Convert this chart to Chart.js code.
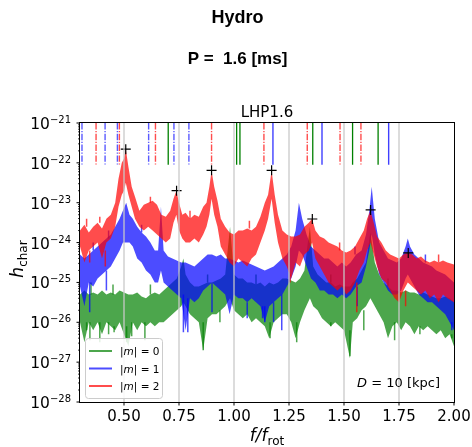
<!DOCTYPE html>
<html><head><meta charset="utf-8">
<script src="https://cdn.jsdelivr.net/npm/chart.js@4.4.1/dist/chart.umd.min.js"></script>
<style>html,body{margin:0;padding:0;background:#fff}#wrap{width:472px;height:447px}</style>
</head><body><div id="wrap"><canvas id="c" width="472" height="447"></canvas></div>
<script>
// ---------- axis / tick data ----------
const xTicks = [0.5, 0.75, 1.0, 1.25, 1.5, 1.75, 2.0];
const xTickLabels = ['0.50', '0.75', '1.00', '1.25', '1.50', '1.75', '2.00'];
const yDecades = [-28, -27, -26, -25, -24, -23, -22, -21];
const seriesLabels = ['|m| = 0', '|m| = 1', '|m| = 2'];

// ---------- spectra (log10 h_char, upper / lower envelope) ----------
const redF = [0.30,0.32,0.34,0.36,0.38,0.40,0.42,0.44,0.46,0.475,
  0.49,0.50,0.508,0.52,0.535,0.55,0.57,0.59,0.61,0.63,
  0.65,0.67,0.69,0.71,0.725,0.738,0.75,0.765,0.78,0.80,
  0.82,0.84,0.86,0.875,0.888,0.898,0.91,0.925,0.94,0.96,
  0.98,1.00,1.02,1.04,1.06,1.08,1.10,1.12,1.14,1.155,
  1.171,1.185,1.20,1.22,1.24,1.26,1.28,1.30,1.32,1.34,
  1.355,1.37,1.39,1.41,1.43,1.45,1.47,1.49,1.51,1.53,
  1.55,1.57,1.59,1.605,1.62,1.635,1.65,1.67,1.69,1.71,
  1.73,1.75,1.77,1.79,1.81,1.83,1.85,1.87,1.89,1.91,
  1.93,1.95,1.97,2.00];
const redHi = [-23.7,-23.55,-23.75,-23.6,-23.5,-23.65,-23.4,-23.3,-23.0,-22.4,
  -22.0,-21.9,-21.65,-22.1,-22.6,-22.85,-23.2,-23.05,-23.0,-22.95,
  -23.05,-23.3,-23.35,-23.2,-22.9,-22.7,-23.0,-23.3,-23.25,-23.4,
  -23.3,-23.35,-23.1,-23.0,-22.6,-22.2,-22.6,-22.95,-23.4,-23.6,
  -23.75,-23.8,-23.7,-23.7,-23.65,-23.7,-23.6,-23.35,-23.0,-22.8,
  -22.2,-22.8,-23.3,-23.7,-23.8,-23.85,-23.85,-23.8,-23.6,-23.5,
  -23.4,-23.7,-23.85,-23.9,-24.0,-24.05,-24.1,-24.2,-24.25,-24.2,
  -24.1,-23.9,-23.7,-23.4,-23.2,-23.5,-23.85,-24.0,-24.2,-24.3,
  -24.35,-24.4,-24.3,-24.25,-24.3,-24.4,-24.35,-24.45,-24.5,-24.45,
  -24.5,-24.45,-24.5,-24.55];
const redLo = [-24.1,-24.5,-24.2,-24.1,-24.0,-24.4,-24.0,-23.9,-23.6,-23.1,
  -22.8,-22.7,-22.5,-22.8,-23.1,-23.4,-23.6,-23.7,-23.6,-23.7,
  -23.8,-23.9,-24.0,-23.9,-23.5,-23.3,-23.7,-23.9,-24.0,-24.0,
  -23.9,-24.0,-23.8,-23.6,-23.3,-22.9,-23.3,-23.6,-24.1,-24.3,
  -24.5,-24.6,-24.4,-24.5,-24.6,-24.4,-24.3,-24.0,-23.7,-23.4,
  -22.9,-23.5,-24.0,-24.4,-24.6,-24.9,-24.5,-24.6,-24.3,-24.2,
  -24.0,-24.4,-24.6,-24.8,-25.0,-25.1,-25.2,-25.1,-25.3,-25.2,
  -25.0,-24.7,-24.5,-24.2,-24.0,-24.3,-24.6,-24.9,-25.0,-25.2,
  -25.4,-25.5,-25.2,-25.0,-25.1,-25.2,-25.3,-25.2,-25.4,-25.3,
  -25.5,-25.3,-25.4,-25.5];

const blueF = [0.30,0.32,0.34,0.36,0.38,0.40,0.42,0.44,0.46,0.48,
  0.495,0.51,0.525,0.54,0.56,0.58,0.60,0.62,0.64,0.655,
  0.668,0.68,0.70,0.72,0.74,0.76,0.78,0.80,0.82,0.84,
  0.86,0.88,0.90,0.92,0.94,0.96,0.98,1.00,1.02,1.04,
  1.06,1.08,1.10,1.12,1.14,1.16,1.18,1.20,1.22,1.24,
  1.26,1.28,1.295,1.31,1.33,1.35,1.37,1.39,1.41,1.43,
  1.45,1.47,1.49,1.51,1.53,1.555,1.58,1.60,1.615,1.626,
  1.64,1.66,1.68,1.70,1.72,1.74,1.76,1.78,1.79,1.80,
  1.82,1.84,1.86,1.88,1.90,1.92,1.94,1.96,1.98,2.00];
const blueHi = [-24.3,-24.4,-24.3,-24.2,-24.1,-24.0,-23.9,-23.8,-23.6,-23.4,
  -23.2,-23.0,-23.3,-23.4,-23.6,-23.75,-23.85,-24.0,-24.2,-24.2,
  -23.1,-24.2,-24.35,-24.4,-24.45,-24.5,-24.5,-24.55,-24.6,-24.5,
  -24.4,-24.3,-24.3,-24.35,-24.3,-24.4,-24.4,-24.45,-24.5,-24.45,
  -24.5,-24.55,-24.6,-24.65,-24.7,-24.65,-24.6,-24.5,-24.4,-24.3,
  -24.1,-23.7,-23.0,-23.4,-23.8,-24.1,-24.2,-24.3,-24.4,-24.4,
  -24.5,-24.6,-24.5,-24.6,-24.5,-24.3,-24.2,-23.8,-23.2,-22.6,
  -23.4,-24.0,-24.2,-24.4,-24.45,-24.5,-24.4,-24.1,-23.9,-24.1,
  -24.3,-24.4,-24.5,-24.55,-24.6,-24.7,-24.75,-24.8,-24.9,-25.0];
const blueLo = [-25.1,-25.6,-25.0,-25.1,-24.9,-24.8,-24.7,-24.6,-24.4,-24.2,
  -24.0,-24.0,-24.0,-24.1,-24.4,-24.5,-24.7,-24.8,-25.0,-25.0,
  -24.7,-25.0,-25.1,-25.2,-25.3,-25.4,-26.2,-25.4,-25.5,-25.4,
  -25.2,-25.1,-25.0,-25.1,-25.2,-25.3,-25.8,-25.3,-25.4,-25.4,
  -25.5,-25.4,-25.5,-25.6,-26.0,-25.6,-25.5,-25.4,-25.3,-25.1,
  -24.9,-24.6,-24.2,-24.3,-24.6,-24.9,-25.0,-25.2,-25.2,-25.3,
  -25.3,-25.4,-25.3,-25.4,-25.3,-25.1,-25.0,-24.6,-24.2,-23.8,
  -24.3,-24.8,-25.0,-25.2,-25.3,-25.3,-25.2,-24.9,-24.8,-24.9,
  -25.1,-25.3,-25.4,-25.5,-25.5,-25.6,-25.7,-25.8,-26.0,-26.2];

const greenF = [0.30,0.32,0.34,0.36,0.38,0.40,0.42,0.44,0.46,0.48,
  0.50,0.52,0.54,0.56,0.58,0.60,0.62,0.64,0.66,0.68,
  0.70,0.72,0.74,0.76,0.77,0.78,0.80,0.82,0.84,0.86,
  0.88,0.90,0.92,0.94,0.96,0.982,1.00,1.02,1.04,1.06,
  1.08,1.10,1.12,1.14,1.16,1.18,1.20,1.22,1.24,1.26,
  1.28,1.30,1.32,1.345,1.36,1.38,1.40,1.42,1.44,1.46,
  1.48,1.50,1.527,1.54,1.56,1.58,1.60,1.62,1.64,1.66,
  1.68,1.70,1.72,1.74,1.76,1.78,1.80,1.82,1.84,1.86,
  1.88,1.90,1.92,1.94,1.96,1.98,2.00];
const greenHi = [-25.3,-25.2,-25.3,-25.25,-25.3,-25.2,-25.3,-25.25,-25.3,-25.2,
  -25.25,-25.3,-25.3,-25.25,-25.35,-25.4,-25.3,-25.25,-25.3,-25.2,
  -25.1,-25.0,-24.9,-24.6,-24.4,-24.8,-25.0,-25.1,-25.1,-25.05,
  -25.0,-25.0,-24.95,-24.9,-24.8,-23.6,-24.8,-24.9,-24.9,-25.0,
  -25.0,-25.05,-25.0,-25.1,-25.0,-25.05,-25.0,-24.9,-24.9,-24.95,
  -25.0,-24.9,-24.7,-23.6,-24.6,-24.8,-24.9,-25.0,-25.0,-25.1,
  -25.05,-25.1,-25.1,-25.0,-24.9,-24.7,-24.5,-23.75,-24.5,-24.8,
  -25.0,-25.1,-25.2,-25.2,-25.25,-25.2,-25.25,-25.25,-25.3,-25.25,
  -25.3,-25.35,-25.4,-25.4,-25.35,-25.4,-25.5];
const greenLo = [-26.0,-26.5,-26.0,-26.2,-26.0,-26.3,-26.0,-26.1,-26.2,-26.0,
  -26.3,-26.6,-26.0,-26.2,-26.0,-26.1,-26.0,-26.1,-26.0,-26.0,
  -25.9,-25.8,-25.7,-25.6,-25.5,-25.6,-25.8,-25.9,-26.0,-26.7,
  -25.9,-25.8,-25.8,-25.7,-25.6,-25.4,-25.7,-25.8,-25.9,-25.8,
  -26.0,-25.9,-26.0,-26.1,-26.4,-26.0,-25.9,-25.8,-25.8,-26.0,
  -26.4,-26.0,-25.7,-25.4,-25.6,-25.7,-25.9,-26.0,-26.1,-26.0,
  -26.1,-26.2,-26.9,-26.0,-25.9,-25.7,-25.6,-25.4,-25.6,-25.8,
  -26.0,-26.4,-26.1,-26.0,-26.2,-26.0,-26.1,-26.3,-26.1,-26.2,
  -26.1,-26.2,-26.3,-26.2,-26.4,-26.3,-26.6];

// ---------- narrow noise spikes (f, from, to in log10) ----------
const greenSpikeF = [0.33,0.345,0.39,0.43,0.455,0.512,0.535,0.595,0.86,0.936,1.164,1.285,1.44,1.527,1.59,1.73,1.845,1.99,0.35,0.45,0.62,0.88,1.10,1.44,1.70];
const greenSpikeFrom = [-26.0,-26.0,-26.0,-26.0,-26.1,-26.1,-26.0,-26.0,-26.0,-25.7,-26.0,-26.0,-26.0,-26.2,-25.7,-26.0,-26.1,-26.3,-25.3,-25.3,-25.3,-25.0,-25.05,-25.0,-25.1];
const greenSpikeTo = [-26.2,-26.45,-26.5,-26.3,-26.25,-26.5,-26.35,-26.45,-26.7,-26.0,-26.4,-26.5,-26.1,-26.85,-26.2,-26.45,-26.3,-26.4,-25.0,-25.05,-25.05,-24.8,-24.8,-24.8,-24.9];
const blueSpikeF = [0.344,0.42,0.77,0.79,0.90,1.06,1.13,1.14,1.18,1.217,1.56,1.99,0.36,0.43,0.58,1.55,1.87];
const blueSpikeFrom = [-25.0,-24.7,-25.3,-25.4,-25.0,-25.5,-25.6,-25.6,-25.5,-25.3,-25.1,-26.0,-24.2,-23.9,-23.75,-24.3,-24.5];
const blueSpikeTo = [-25.75,-25.2,-26.25,-26.25,-25.75,-25.9,-25.9,-26.0,-26.0,-26.2,-25.6,-26.2,-24.0,-23.7,-23.55,-24.1,-24.3];
const redSpikeF = [0.344,0.415,1.255,1.558,1.78,0.33,0.39,0.62,0.80,1.07,1.48,1.93];
const redSpikeFrom = [-24.2,-24.2,-24.8,-25.0,-25.2,-23.6,-23.5,-23.0,-23.4,-23.65,-24.2,-24.5];
const redSpikeTo = [-24.5,-24.6,-25.0,-25.75,-25.6,-23.4,-23.35,-22.85,-23.2,-23.45,-24.0,-24.3];

// ---------- predicted frequency markers (top segments) ----------
const segTop = 1e-21, segBottom = 9e-23;
const redDashF = [0.373, 0.479, 0.643, 0.898, 1.136, 1.333, 1.482, 1.577];
const blueDashF = [0.309, 0.414, 0.470, 0.612, 0.727, 0.795];
const greenSolidF = [0.701, 1.012, 1.027, 1.358, 1.539, 1.655];
const blueSolidF = [1.177, 1.400, 1.703];

// ---------- peak markers ----------
const peakF = [0.508, 0.739, 0.898, 1.171, 1.356, 1.621, 1.792];
const peakH = [2.2e-22, 2.0e-23, 6.5e-23, 6.5e-23, 3.9e-24, 6.6e-24, 5.5e-25];

// ---------- styles ----------
const cGreen = 'rgba(0,128,0,0.7)', cBlue = 'rgba(0,0,255,0.7)', cRed = 'rgba(255,0,0,0.7)';
const FONT = '"DejaVu Sans", sans-serif';

function toPts(f, e) { return f.map((x, i) => ({ x: x, y: Math.pow(10, e[i]) })); }

const datasets = [];
datasets.push({ type: 'line', data: peakF.map((x, i) => ({ x: x, y: peakH[i] })), showLine: false,
  pointStyle: 'cross', pointRadius: 5, pointBorderWidth: 1.2, pointBorderColor: '#000', borderColor: '#000', order: 0 });
function addSegs(arr, color, dash, width) {
  arr.forEach(f => datasets.push({ type: 'line', data: [{ x: f, y: segTop }, { x: f, y: segBottom }],
    borderColor: color, borderWidth: width, borderDash: dash, pointRadius: 0, fill: false, order: 1 }));
}
addSegs(redDashF, 'rgba(255,0,0,0.7)', [6.4, 1.6, 1.2, 1.6], 1.4);
addSegs(blueDashF, 'rgba(0,0,255,0.65)', [6.4, 1.6, 1.2, 1.6], 1.4);
addSegs(greenSolidF, 'rgb(0,128,0)', [], 1.3);
addSegs(blueSolidF, 'rgba(0,0,255,0.75)', [], 1.4);
function addBand(f, hi, lo, sf, sFrom, sTo, color, order) {
  const hiIdx = datasets.length;
  datasets.push({ type: 'line', data: toPts(f, hi), borderColor: 'rgba(0,0,0,0)', borderWidth: 0,
    pointRadius: 0, fill: false, order: order });
  datasets.push({ type: 'line', data: toPts(f, lo), borderColor: 'rgba(0,0,0,0)', borderWidth: 0,
    pointRadius: 0, backgroundColor: color, fill: { target: hiIdx }, order: order });
  const sp = [];
  sf.forEach((x, i) => { sp.push({ x: x, y: Math.pow(10, sFrom[i]) }, { x: x, y: Math.pow(10, sTo[i]) }, { x: x, y: null }); });
  datasets.push({ type: 'line', data: sp, borderColor: color, borderWidth: 1.5, pointRadius: 0,
    fill: false, spanGaps: false, order: order });
}
addBand(redF, redHi, redLo, redSpikeF, redSpikeFrom, redSpikeTo, cRed, 2);
addBand(blueF, blueHi, blueLo, blueSpikeF, blueSpikeFrom, blueSpikeTo, cBlue, 3);
addBand(greenF, greenHi, greenLo, greenSpikeF, greenSpikeFrom, greenSpikeTo, cGreen, 4);

function drawParts(ctx, parts, x, y) {
  for (const p of parts) { ctx.font = p[1]; ctx.fillText(p[0], x, y + (p[2] || 0)); x += ctx.measureText(p[0]).width; }
  return x;
}
function partsWidth(ctx, parts) {
  let w = 0; for (const p of parts) { ctx.font = p[1]; w += ctx.measureText(p[0]).width; } return w;
}

const deco = {
  id: 'deco',
  afterDatasetsDraw(chart) {
    const { ctx, chartArea: a, scales } = chart;
    const xs = scales.x, ys = scales.y;
    ctx.save();
    ctx.strokeStyle = 'rgba(200,200,200,0.85)'; ctx.lineWidth = 1.5;
    xTicks.forEach(v => { if (v >= 2) return; const px = xs.getPixelForValue(v);
      ctx.beginPath(); ctx.moveTo(px, a.top); ctx.lineTo(px, a.bottom); ctx.stroke(); });
    ctx.strokeStyle = '#000'; ctx.lineWidth = 1;
    ctx.strokeRect(Math.round(a.left) - 0.5, Math.round(a.top) - 0.5, Math.round(a.right - a.left) + 1, Math.round(a.bottom - a.top) + 1);
    ctx.fillStyle = '#000'; ctx.textAlign = 'center'; ctx.textBaseline = 'alphabetic';
    ctx.font = '15px ' + FONT;
    xTicks.forEach((v, i) => { const px = xs.getPixelForValue(v);
      ctx.beginPath(); ctx.moveTo(px, a.bottom); ctx.lineTo(px, a.bottom + 3.5); ctx.stroke();
      ctx.fillText(xTickLabels[i], px, 421); });
    ctx.textAlign = 'left';
    yDecades.forEach(d => { const py = ys.getPixelForValue(Math.pow(10, d));
      ctx.beginPath(); ctx.moveTo(a.left - 3.5, py); ctx.lineTo(a.left, py); ctx.stroke();
      const parts = [['10', '15.5px ' + FONT, 0], ['\u2212' + String(-d), '10px ' + FONT, -6]];
      const w = partsWidth(ctx, parts);
      drawParts(ctx, parts, a.left - 9 - w, py + 6);
      if (d < -21) { ctx.lineWidth = 0.8;
        for (let k = 2; k <= 9; k++) { const pm = ys.getPixelForValue(k * Math.pow(10, d));
          ctx.beginPath(); ctx.moveTo(a.left - 2, pm); ctx.lineTo(a.left, pm); ctx.stroke(); }
        ctx.lineWidth = 1; }
    });
    const lx = 85, ly = 338, lw = 77, lh = 60;
    ctx.fillStyle = 'rgba(255,255,255,0.85)'; ctx.strokeStyle = '#cccccc'; ctx.lineWidth = 1;
    ctx.beginPath(); ctx.roundRect(lx + 0.5, ly + 0.5, lw, lh, 3); ctx.fill(); ctx.stroke();
    const lcols = [cGreen, cBlue, cRed], rows = [351, 368.5, 386];
    seriesLabels.forEach((lab, i) => {
      ctx.strokeStyle = lcols[i]; ctx.lineWidth = 2;
      ctx.beginPath(); ctx.moveTo(89, rows[i]); ctx.lineTo(112, rows[i]); ctx.stroke();
      ctx.fillStyle = '#000';
      const m = lab.indexOf('m');
      drawParts(ctx, [[lab.slice(0, m), '10.5px ' + FONT], ['m', 'italic 10.5px ' + FONT], [lab.slice(m + 1), '10.5px ' + FONT]], 120, rows[i] + 4);
    });
    const dparts = [['D', 'italic 13px ' + FONT], [' = 10 [kpc]', '13px ' + FONT]];
    drawParts(ctx, dparts, 440 - partsWidth(ctx, dparts), 387);
    const xl = [['f/f', 'italic 17px ' + FONT, 0], ['rot', '12px ' + FONT, 3.5]];
    drawParts(ctx, xl, (a.left + a.right) / 2 - partsWidth(ctx, xl) / 2, 441);
    ctx.save(); ctx.translate(23, 259); ctx.rotate(-Math.PI / 2);
    const yl = [['h', 'italic 17px ' + FONT, 0], ['char', '12px ' + FONT, 3.5]];
    drawParts(ctx, yl, -partsWidth(ctx, yl) / 2, 0);
    ctx.restore();
    ctx.textAlign = 'center';
    ctx.font = 'bold 18px "Liberation Sans", Arial, sans-serif'; ctx.fillText('Hydro', 237.5, 23);
    ctx.font = 'bold 17px "Liberation Sans", Arial, sans-serif'; ctx.fillText('P =  1.6 [ms]', 237.5, 64);
    ctx.font = '15px ' + FONT; ctx.fillText('LHP1.6', (a.left + a.right) / 2, 117);
    ctx.restore();
  }
};

new Chart(document.getElementById('c'), {
  type: 'line',
  data: { datasets: datasets },
  options: {
    responsive: false, devicePixelRatio: 1, animation: false,
    layout: { padding: { left: 80, right: 18, top: 123, bottom: 45 } },
    scales: {
      x: { type: 'linear', min: 0.3, max: 2.0, display: false },
      y: { type: 'logarithmic', min: 1e-28, max: 1e-21, display: false }
    },
    plugins: { legend: { display: false }, tooltip: { enabled: false }, filler: { propagate: false } },
    elements: { line: { tension: 0 } }
  },
  plugins: [deco]
});
</script></body></html>
